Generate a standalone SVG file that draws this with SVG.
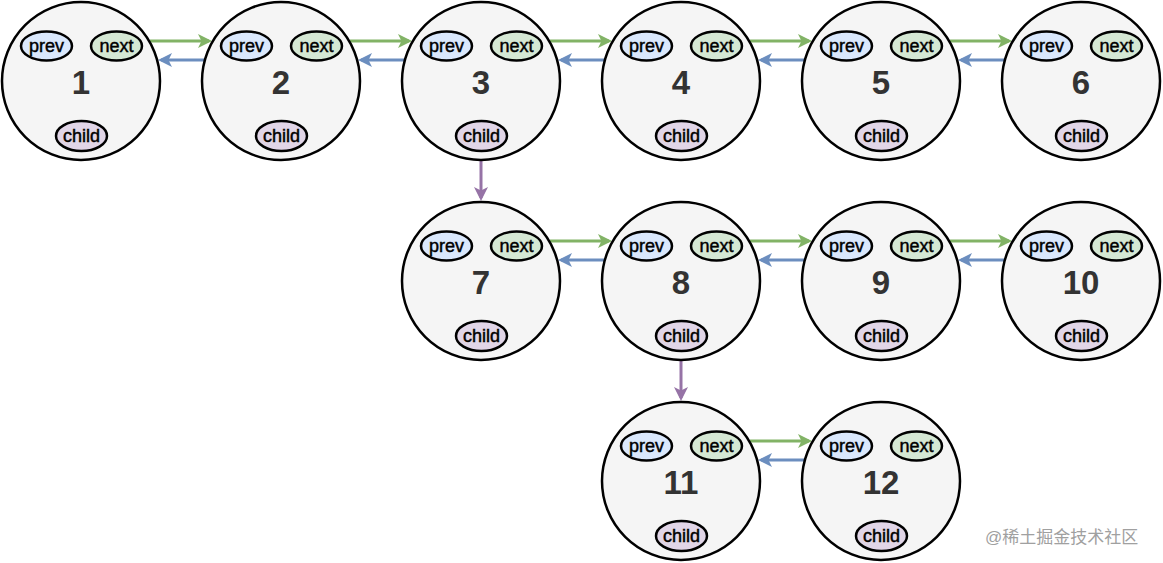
<svg xmlns="http://www.w3.org/2000/svg" width="1163" height="563" viewBox="0 0 1163 563">
<style>
.node circle{fill:#f5f5f5;stroke:#000;stroke-width:2.5}
.prev{fill:#dae8fc;stroke:#000;stroke-width:2.5}
.next{fill:#d5e8d4;stroke:#000;stroke-width:2.5}
.child{fill:#e1d5e7;stroke:#000;stroke-width:2.5}
.lbl{font-family:"Liberation Sans",Arial,sans-serif;font-size:18px;fill:#000;stroke:#000;stroke-width:0.45;text-anchor:middle;dominant-baseline:central}
.num{font-family:"Liberation Sans",Arial,sans-serif;font-size:33px;font-weight:bold;fill:#333;text-anchor:middle;dominant-baseline:central}
.g{stroke:#82b366;stroke-width:3;fill:none}
.b{stroke:#6c8ebf;stroke-width:3;fill:none}
.p{stroke:#9673a6;stroke-width:3;fill:none}
.wm{font-family:"Liberation Sans","Noto Sans CJK SC",sans-serif;font-size:17px;fill:#a0a0a0}
</style>
<defs>
<marker id="ag" markerUnits="userSpaceOnUse" viewBox="0 0 14 14" markerWidth="14" markerHeight="14" refX="11" refY="7" orient="auto"><path d="M0,0 L14,7 L0,14 L3.5,7 z" fill="#82b366"/></marker>
<marker id="ab" markerUnits="userSpaceOnUse" viewBox="0 0 14 14" markerWidth="14" markerHeight="14" refX="11" refY="7" orient="auto"><path d="M0,0 L14,7 L0,14 L3.5,7 z" fill="#6c8ebf"/></marker>
<marker id="ap" markerUnits="userSpaceOnUse" viewBox="0 0 14 14" markerWidth="14" markerHeight="14" refX="11" refY="7" orient="auto"><path d="M0,0 L14,7 L0,14 L3.5,7 z" fill="#9673a6"/></marker>
<g id="nodeT" class="node">
<circle cx="0" cy="0" r="79"/>
<ellipse class="prev" cx="-34.5" cy="-35" rx="25.5" ry="14.5"/>
<text class="lbl" x="-34.5" y="-35">prev</text>
<ellipse class="next" cx="35.5" cy="-35" rx="25.5" ry="14.5"/>
<text class="lbl" x="35.5" y="-35">next</text>
<ellipse class="child" cx="0.5" cy="55" rx="25.5" ry="15"/>
<text class="lbl" x="0.5" y="55">child</text>
</g>
</defs>
<g id="connectors">
<line class="g" x1="150" y1="41" x2="209" y2="41" marker-end="url(#ag)"/>
<line class="b" x1="204" y1="60" x2="161" y2="60" marker-end="url(#ab)"/>
<line class="g" x1="350" y1="41" x2="409" y2="41" marker-end="url(#ag)"/>
<line class="b" x1="404" y1="60" x2="361" y2="60" marker-end="url(#ab)"/>
<line class="g" x1="550" y1="41" x2="609" y2="41" marker-end="url(#ag)"/>
<line class="b" x1="604" y1="60" x2="561" y2="60" marker-end="url(#ab)"/>
<line class="g" x1="750" y1="41" x2="809" y2="41" marker-end="url(#ag)"/>
<line class="b" x1="804" y1="60" x2="761" y2="60" marker-end="url(#ab)"/>
<line class="g" x1="950" y1="41" x2="1009" y2="41" marker-end="url(#ag)"/>
<line class="b" x1="1004" y1="60" x2="961" y2="60" marker-end="url(#ab)"/>
<line class="g" x1="550" y1="241" x2="609" y2="241" marker-end="url(#ag)"/>
<line class="b" x1="604" y1="260" x2="561" y2="260" marker-end="url(#ab)"/>
<line class="g" x1="750" y1="241" x2="809" y2="241" marker-end="url(#ag)"/>
<line class="b" x1="804" y1="260" x2="761" y2="260" marker-end="url(#ab)"/>
<line class="g" x1="950" y1="241" x2="1009" y2="241" marker-end="url(#ag)"/>
<line class="b" x1="1004" y1="260" x2="961" y2="260" marker-end="url(#ab)"/>
<line class="g" x1="750" y1="441" x2="809" y2="441" marker-end="url(#ag)"/>
<line class="b" x1="804" y1="460" x2="761" y2="460" marker-end="url(#ab)"/>
<line class="p" x1="481" y1="161" x2="481" y2="198" marker-end="url(#ap)"/>
<line class="p" x1="681" y1="361" x2="681" y2="398" marker-end="url(#ap)"/>
</g>
<g id="n1"><use href="#nodeT" x="81" y="81"/><text class="num" x="81" y="82">1</text></g>
<g id="n2"><use href="#nodeT" x="281" y="81"/><text class="num" x="281" y="82">2</text></g>
<g id="n3"><use href="#nodeT" x="481" y="81"/><text class="num" x="481" y="82">3</text></g>
<g id="n4"><use href="#nodeT" x="681" y="81"/><text class="num" x="681" y="82">4</text></g>
<g id="n5"><use href="#nodeT" x="881" y="81"/><text class="num" x="881" y="82">5</text></g>
<g id="n6"><use href="#nodeT" x="1081" y="81"/><text class="num" x="1081" y="82">6</text></g>
<g id="n7"><use href="#nodeT" x="481" y="281"/><text class="num" x="481" y="282">7</text></g>
<g id="n8"><use href="#nodeT" x="681" y="281"/><text class="num" x="681" y="282">8</text></g>
<g id="n9"><use href="#nodeT" x="881" y="281"/><text class="num" x="881" y="282">9</text></g>
<g id="n10"><use href="#nodeT" x="1081" y="281"/><text class="num" x="1081" y="282">10</text></g>
<g id="n11"><use href="#nodeT" x="681" y="481"/><text class="num" x="681" y="482">11</text></g>
<g id="n12"><use href="#nodeT" x="881" y="481"/><text class="num" x="881" y="482">12</text></g>
<text class="wm" x="985" y="543">@稀土掘金技术社区</text>
</svg>
